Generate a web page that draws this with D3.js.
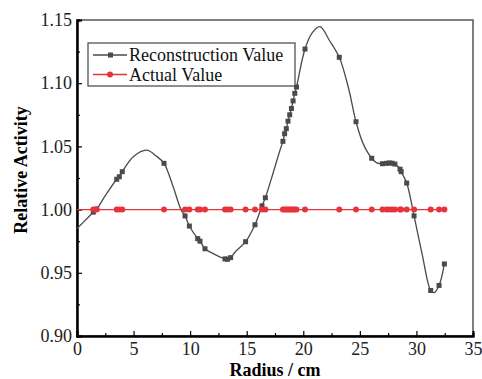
<!DOCTYPE html>
<html lang="en">
<head>
  <meta charset="UTF-8">
  <title>Relative Activity vs Radius</title>
  <script src="https://d3js.org/d3.v7.min.js"></script>
  <style>
    body { margin: 0; background: #fff; }
    svg text { font-family: "Liberation Serif", "Times New Roman", Times, Tinos, "DejaVu Serif", serif; }
  </style>
</head>
<body>
  <div id="chart"></div>
  <script>
    // sample radii (cm) shared by both series
    const radii = [1.44, 1.74, 3.51, 3.74, 4.0, 7.69, 9.55, 9.93, 10.67, 10.87, 11.31,
      13.08, 13.3, 13.58, 14.9, 15.73, 16.35, 16.65,
      18.2, 18.35, 18.5, 18.65, 18.8, 18.95, 19.1, 19.25, 19.4, 20.15, 23.18, 24.66,
      26.05, 27.0, 27.35, 27.6, 27.85, 28.1, 28.55, 28.65, 29.14, 29.79, 31.26, 32.0, 32.47];
    const reconValues = [0.998, 1.0005, 1.024, 1.026, 1.030, 1.0366, 0.995, 0.987, 0.977, 0.975, 0.969,
      0.961, 0.9607, 0.962, 0.9746, 0.988, 1.003, 1.0094,
      1.054, 1.060, 1.064, 1.070, 1.075, 1.080, 1.086, 1.092, 1.097, 1.127, 1.1205, 1.0695,
      1.0406, 1.0363, 1.0366, 1.0369, 1.0367, 1.036, 1.032, 1.030, 1.021, 0.995, 0.936, 0.940, 0.957];
    const actualValues = radii.map(() => 1.0);

    // points on the reconstruction curve without a marker
    const curveR = [0, 1.0, 2.5, 5.0, 6.16, 7.0, 8.5, 9.19, 12.0, 14.0, 17.3, 17.94,
      20.8, 21.48, 22.3, 24.0, 25.3, 26.5, 30.5, 31.55];
    const curveV = [0.985, 0.994, 1.011, 1.042, 1.047, 1.0424, 1.018, 1.000, 0.9654, 0.9667, 1.028, 1.047,
      1.140, 1.1447, 1.134, 1.096, 1.052, 1.037, 0.965, 0.9343];

    const xTicks = [0, 5, 10, 15, 20, 25, 30, 35];
    const yTicks = [0.90, 0.95, 1.00, 1.05, 1.10, 1.15];
    const seriesNames = ["Reconstruction Value", "Actual Value"];

    const width = 482, height = 379;
    const margin = {top: 20, right: 9, bottom: 43, left: 77};

    const svg = d3.select("#chart").append("svg")
      .attr("width", width).attr("height", height);

    const x = d3.scaleLinear().domain([0, 35]).range([margin.left, width - margin.right]);
    const y = d3.scaleLinear().domain([0.90, 1.15]).range([height - margin.bottom, margin.top]);

    const grey = "#4a4a4a", red = "#e8333a";

    // frame
    svg.append("rect")
      .attr("x", x(0)).attr("y", y(1.15))
      .attr("width", x(35) - x(0)).attr("height", y(0.90) - y(1.15))
      .attr("fill", "none").attr("stroke", "#555").attr("stroke-width", 1.5);

    // axes, ticks inside
    const xAxis = svg.append("g").attr("transform", `translate(0,${y(0.90)})`)
      .call(d3.axisBottom(x).tickValues(xTicks).tickSize(-5).tickPadding(8).tickFormat(d3.format("d")));
    svg.append("g").attr("transform", `translate(0,${y(0.90)})`)
      .call(d3.axisBottom(x).tickValues(d3.range(2.5, 35, 5)).tickSize(-3).tickFormat(""));
    svg.append("g").attr("transform", `translate(${x(0)},0)`)
      .call(d3.axisLeft(y).tickValues(yTicks).tickSize(-5).tickPadding(5).tickFormat(d3.format(".2f")));
    svg.append("g").attr("transform", `translate(${x(0)},0)`)
      .call(d3.axisLeft(y).tickValues([0.925, 0.975, 1.025, 1.075, 1.125]).tickSize(-3).tickFormat(""));

    svg.selectAll("g").attr("font-family", null).attr("font-size", null);
    svg.selectAll(".domain").attr("stroke", "#000").attr("stroke-width", 2);
    svg.selectAll(".tick line").attr("stroke", "#000").attr("stroke-width", 1.2);
    svg.selectAll(".tick text").attr("font-size", 18).attr("fill", "#222");
    xAxis.selectAll(".tick text").attr("dy", "0.6em");

    svg.append("text")
      .attr("x", (x(0) + x(35)) / 2).attr("y", 376)
      .attr("text-anchor", "middle").attr("font-size", 18).attr("font-weight", "bold")
      .text("Radius / cm");
    svg.append("text")
      .attr("transform", `translate(27,${(y(0.90) + y(1.15)) / 2 - 8}) rotate(-90)`)
      .attr("text-anchor", "middle").attr("font-size", 18).attr("font-weight", "bold")
      .text("Relative Activity");

    // reconstruction curve through markers and extra points
    const curvePts = radii.map((r, i) => [r, reconValues[i]])
      .concat(curveR.map((r, i) => [r, curveV[i]]))
      .sort((a, b) => a[0] - b[0]);

    const line = d3.line().x(d => x(d[0])).y(d => y(d[1])).curve(d3.curveCatmullRom.alpha(0.5));

    svg.append("path").datum(curvePts)
      .attr("d", line).attr("fill", "none").attr("stroke", grey).attr("stroke-width", 1.3);

    // actual value line
    svg.append("path").datum([[0, 1.0], [radii[radii.length - 1], 1.0]])
      .attr("d", d3.line().x(d => x(d[0])).y(d => y(d[1])))
      .attr("stroke", red).attr("stroke-width", 1.2).attr("fill", "none");

    svg.append("g").selectAll("rect").data(radii).join("rect")
      .attr("x", (d, i) => x(d) - 2.5).attr("y", (d, i) => y(reconValues[i]) - 2.5)
      .attr("width", 5).attr("height", 5).attr("fill", grey);

    svg.append("g").selectAll("circle").data(radii).join("circle")
      .attr("cx", d => x(d)).attr("cy", (d, i) => y(actualValues[i]))
      .attr("r", 3).attr("fill", red);

    // legend
    const lg = svg.append("g");
    lg.append("rect").attr("x", 88).attr("y", 43).attr("width", 207).attr("height", 43)
      .attr("fill", "#fff").attr("stroke", "#444").attr("stroke-width", 1.2);
    seriesNames.forEach((name, i) => {
      const cy = 55 + i * 19.5;
      const c = i === 0 ? grey : red;
      lg.append("line").attr("x1", 93).attr("x2", 127).attr("y1", cy).attr("y2", cy)
        .attr("stroke", c).attr("stroke-width", 1.3);
      if (i === 0) {
        lg.append("rect").attr("x", 108).attr("y", cy - 2.5).attr("width", 5).attr("height", 5).attr("fill", c);
      } else {
        lg.append("circle").attr("cx", 110).attr("cy", cy).attr("r", 3).attr("fill", c);
      }
      lg.append("text").attr("x", 129).attr("y", cy).attr("dy", "0.35em")
        .attr("font-size", 18).attr("fill", "#111").text(name);
    });
  </script>
</body>
</html>
